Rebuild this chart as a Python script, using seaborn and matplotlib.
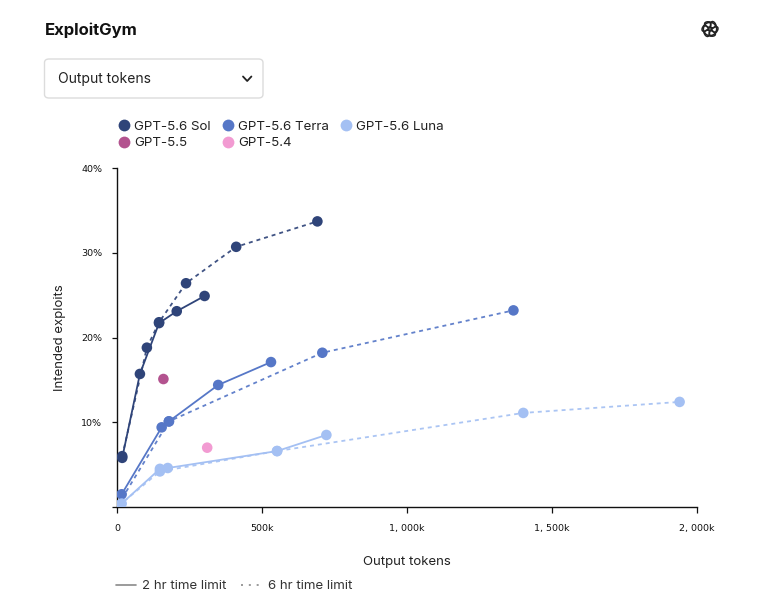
import numpy as np
import pandas as pd
import matplotlib
matplotlib.use("Agg")
import matplotlib.pyplot as plt
import seaborn as sns
from matplotlib.patches import FancyBboxPatch, Ellipse
from matplotlib.lines import Line2D
from matplotlib.ticker import FuncFormatter

# ---------------- data (tokens in thousands, values in %) ----------------
sol_2h_tokens = [18, 79, 145, 206, 302]
sol_2h_pct = [5.8, 15.7, 21.7, 23.1, 24.9]
sol_6h_tokens = [18, 103, 145, 238, 411, 691]
sol_6h_pct = [6.0, 18.8, 21.8, 26.4, 30.7, 33.7]
terra_2h_tokens = [16, 154, 179, 349, 531]
terra_2h_pct = [1.5, 9.4, 10.1, 14.4, 17.1]
terra_6h_tokens = [3, 179, 708, 1367]
terra_6h_pct = [0.2, 10.1, 18.2, 23.2]
luna_2h_tokens = [16, 148, 175, 552, 722]
luna_2h_pct = [0.4, 4.5, 4.6, 6.6, 8.5]
luna_6h_tokens = [4, 148, 552, 1401, 1940]
luna_6h_pct = [0.1, 4.2, 6.6, 11.1, 12.4]
gpt55_tokens = [160]
gpt55_pct = [15.1]
gpt54_tokens = [311]
gpt54_pct = [7.0]

models = ["GPT-5.6 Sol", "GPT-5.6 Terra", "GPT-5.6 Luna", "GPT-5.5", "GPT-5.4"]
colors = {"GPT-5.6 Sol": "#2f4479", "GPT-5.6 Terra": "#5677c7",
          "GPT-5.6 Luna": "#a4c0f3", "GPT-5.5": "#b3538f", "GPT-5.4": "#f29bd2"}
x_ticks = [0, 500, 1000, 1500, 2000]
y_ticks = [0, 10, 20, 30, 40]

series = [
    ("GPT-5.6 Sol", "2 hr", sol_2h_tokens, sol_2h_pct),
    ("GPT-5.6 Sol", "6 hr", sol_6h_tokens, sol_6h_pct),
    ("GPT-5.6 Terra", "2 hr", terra_2h_tokens, terra_2h_pct),
    ("GPT-5.6 Terra", "6 hr", terra_6h_tokens, terra_6h_pct),
    ("GPT-5.6 Luna", "2 hr", luna_2h_tokens, luna_2h_pct),
    ("GPT-5.6 Luna", "6 hr", luna_6h_tokens, luna_6h_pct),
    ("GPT-5.5", "single", gpt55_tokens, gpt55_pct),
    ("GPT-5.4", "single", gpt54_tokens, gpt54_pct),
]
rows = []
for m, lim, tk, pc in series:
    for i, (t, p) in enumerate(zip(tk, pc)):
        rows.append({"model": m, "limit": lim, "tokens": t * 1000, "pct": p, "order": i})
df = pd.DataFrame(rows)

# ---------------- figure ----------------
sns.set_theme(style="white")
plt.rcParams["font.family"] = ["Inter", "DejaVu Sans"]
fig = plt.figure(figsize=(7.58, 6.13), dpi=100)
fig.patch.set_facecolor("white")
W, H = 758, 613

ax = fig.add_axes([117 / W, 1 - 507 / H, 580 / W, 339 / H])
ax.set_facecolor("white")

for (m, lim), sub in df.groupby(["model", "limit"], sort=False):
    if lim == "single":
        continue
    sns.lineplot(data=sub, x="tokens", y="pct", ax=ax, color=colors[m],
                 linewidth=1.3,
                 linestyle="-" if lim == "2 hr" else (0, (2.2, 2.2)),
                 sort=False, estimator=None, legend=False, zorder=2,
                 alpha=1.0 if lim == "2 hr" else 0.92)

sns.scatterplot(data=df, x="tokens", y="pct", hue="model", palette=colors,
                hue_order=models, s=58, linewidth=0, ax=ax, legend=False, zorder=3)

ax.set_xlim(0, 2000 * 1000)
ax.set_ylim(0, 40)
ax.set_xticks([t * 1000 for t in x_ticks])
ax.set_yticks(y_ticks)
ax.xaxis.set_major_formatter(FuncFormatter(lambda v, p: "0" if v == 0 else f"{int(v/1000):,}k".replace(",", ", ")))
ax.yaxis.set_major_formatter(FuncFormatter(lambda v, p: "" if v == 0 else f"{int(v)}%"))
for s in ["top", "right"]:
    ax.spines[s].set_visible(False)
for s in ["left", "bottom"]:
    ax.spines[s].set_color("#111111")
    ax.spines[s].set_linewidth(1.0)
ax.tick_params(axis="x", direction="out", length=4, width=0.9, color="#111111",
               pad=8, labelsize=6.8, labelcolor="#111111", bottom=True)
ax.tick_params(axis="y", direction="out", length=3.5, width=0.9, color="#111111",
               pad=7, labelsize=6.8, labelcolor="#111111", left=True)
for lab in ax.get_xticklabels() + ax.get_yticklabels():
    lab.set_family("DejaVu Sans")
ax.grid(False)

ax.set_xlabel("Output tokens", fontsize=9.5, color="#222222")
ax.xaxis.set_label_coords(0.5, -0.144)
ax.set_ylabel("Intended exploits", fontsize=9.5, color="#222222")
ax.yaxis.set_label_coords(-0.088, 0.5)

# ---------------- header ----------------
fig.text(45 / W, 1 - 30 / H, "ExploitGym", fontsize=12, fontweight="bold",
         color="#111111", ha="left", va="center")
box = FancyBboxPatch((44.5 / W, 1 - 98 / H), 218.5 / W, 39 / H,
                     boxstyle="round,pad=0,rounding_size=0.006",
                     transform=fig.transFigure, facecolor="white",
                     edgecolor="#dcdcdc", linewidth=1.0)
fig.patches.append(box)
fig.text(58 / W, 1 - 78.5 / H, "Output tokens", fontsize=10, color="#222222",
         ha="left", va="center")
fig.add_artist(Line2D([243 / W, 247.2 / W, 251.4 / W],
                      [1 - 76.5 / H, 1 - 81 / H, 1 - 76.5 / H],
                      transform=fig.transFigure, color="#222222", linewidth=1.3,
                      solid_capstyle="round", solid_joinstyle="round"))

# logo approximation
lax = fig.add_axes([699 / W, 1 - 40 / H, 22 / W, 22 / H])
lax.set_xlim(-1.1, 1.1)
lax.set_ylim(-1.1, 1.1)
lax.set_aspect("equal")
lax.axis("off")
for k in range(6):
    ang = np.deg2rad(30 + 60 * k)
    cx, cy = 0.42 * np.cos(ang), 0.42 * np.sin(ang)
    lax.add_patch(Ellipse((cx, cy), 1.1, 0.55, angle=np.degrees(ang) + 75,
                          fill=False, edgecolor="#222222", linewidth=1.1))

# ---------------- legends ----------------
handles = [Line2D([], [], marker="o", linestyle="none", markersize=8.5,
                  markerfacecolor=colors[m], markeredgewidth=0) for m in models]
order = [0, 3, 1, 4, 2]
fig.legend([handles[i] for i in order], [models[i] for i in order], ncol=3,
           loc="upper left", bbox_to_anchor=(117 / W, 1 - 120.5 / H), frameon=False,
           fontsize=9.6, handletextpad=0.3, columnspacing=0.75, labelspacing=0.3,
           handlelength=1.0, borderaxespad=0, borderpad=0, labelcolor="#222222")

lh = [Line2D([], [], color="#8a8a8a", linewidth=1.2, linestyle="-"),
      Line2D([], [], color="#8a8a8a", linewidth=1.2, linestyle=(0, (1.2, 3.5)))]
fig.legend(lh, ["2 hr time limit", "6 hr time limit"], ncol=2, loc="upper left",
           bbox_to_anchor=(116 / W, 1 - 580 / H), frameon=False, fontsize=9.5,
           handlelength=1.5, handletextpad=0.5, columnspacing=1.1,
           borderaxespad=0, borderpad=0, labelcolor="#333333")

fig.savefig("out.png", dpi=100, facecolor="white")
